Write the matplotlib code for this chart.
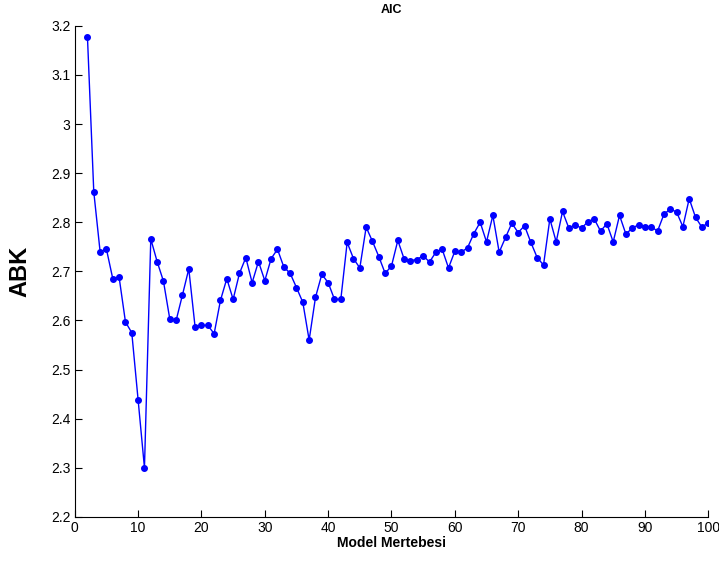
import matplotlib

matplotlib.use("Agg")

import matplotlib.pyplot as plt

# model orders 2..100 and their AIC (ABK) values
orders = list(range(2, 101))
aic = [
    3.178, 2.862, 2.740, 2.745, 2.685, 2.688, 2.597, 2.575, 2.438, 2.300,
    2.766, 2.720, 2.680, 2.603, 2.600, 2.652, 2.705, 2.586, 2.590, 2.590,
    2.573, 2.641, 2.685, 2.643, 2.696, 2.728, 2.677, 2.720, 2.681, 2.726,
    2.745, 2.709, 2.696, 2.667, 2.637, 2.560, 2.647, 2.694, 2.677, 2.643,
    2.643, 2.759, 2.726, 2.707, 2.790, 2.761, 2.730, 2.696, 2.711, 2.763,
    2.725, 2.722, 2.724, 2.732, 2.719, 2.739, 2.745, 2.707, 2.741, 2.739,
    2.748, 2.777, 2.800, 2.760, 2.814, 2.739, 2.769, 2.798, 2.779, 2.793,
    2.759, 2.728, 2.713, 2.807, 2.760, 2.822, 2.788, 2.795, 2.788, 2.801,
    2.807, 2.782, 2.797, 2.760, 2.814, 2.776, 2.788, 2.795, 2.790, 2.791,
    2.782, 2.816, 2.827, 2.821, 2.791, 2.848, 2.810, 2.790, 2.799,
]
x_ticks = list(range(0, 101, 10))
y_ticks = [2.2, 2.3, 2.4, 2.5, 2.6, 2.7, 2.8, 2.9, 3.0, 3.1, 3.2]
y_tick_labels = ["2.2", "2.3", "2.4", "2.5", "2.6", "2.7", "2.8", "2.9", "3", "3.1", "3.2"]

plt.rcParams["font.family"] = ["Liberation Sans", "DejaVu Sans"]

fig = plt.figure(figsize=(7.19, 5.63), dpi=100)
ax = fig.add_axes([0.104, 0.082, 0.881, 0.872])

ax.plot(orders, aic, color="#0000ff", linewidth=1.0, marker=".", markersize=8)

ax.set_xlim(0, 100)
ax.set_ylim(2.2, 3.2)
ax.set_xticks(x_ticks)
ax.set_yticks(y_ticks)
ax.set_yticklabels(y_tick_labels)
ax.tick_params(direction="in", length=5, width=0.8, labelsize=10, pad=3)

for side in ("top", "right"):
    ax.spines[side].set_visible(False)
for side in ("left", "bottom"):
    ax.spines[side].set_linewidth(0.8)

ax.set_title("AIC", fontsize=9, fontweight="bold", pad=9)
ax.set_xlabel("Model Mertebesi", fontsize=10, fontweight="bold", labelpad=1)
ax.set_ylabel("ABK", fontsize=17, fontweight="bold", labelpad=14)

fig.savefig("out.png", dpi=100)
plt.close(fig)
